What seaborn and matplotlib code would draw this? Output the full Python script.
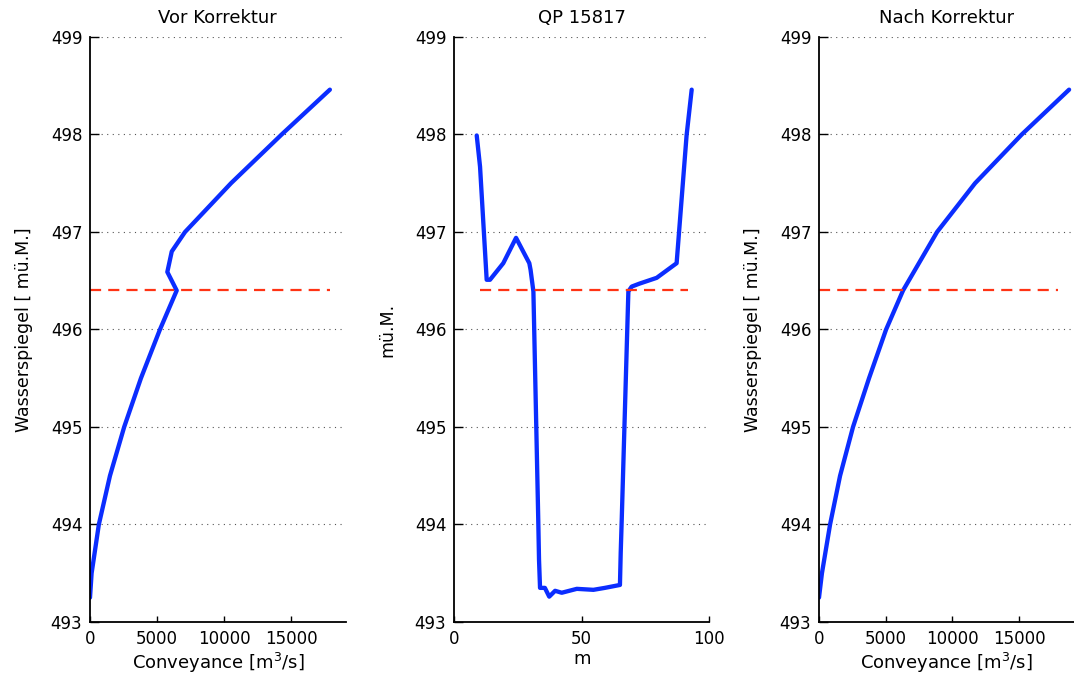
import numpy as np
import pandas as pd
import matplotlib
matplotlib.use("Agg")
import matplotlib.pyplot as plt
import seaborn as sns

# ---- data ----
vor_k = [0, 120, 660, 1490, 2550, 3800, 5220, 6470, 5770, 6100, 7090, 10520, 14300, 17900]
vor_h = [493.25, 493.5, 494.0, 494.5, 495.0, 495.5, 496.0, 496.4, 496.59, 496.8, 497.0, 497.5, 498.0, 498.46]

nach_k = [0, 220, 830, 1580, 2550, 3750, 5030, 6300, 8850, 11700, 15200, 18750]
nach_h = [493.25, 493.5, 494.0, 494.5, 495.0, 495.5, 496.0, 496.4, 497.0, 497.5, 498.0, 498.46]

qp_m = [8.9, 10.2, 12.8, 14.1, 19.3, 24.3, 29.5, 30.0, 31.1, 33.0, 33.3, 33.7, 35.6, 37.3,
        39.6, 42.2, 48.1, 54.6, 59.1, 65.0, 65.3, 65.7, 68.3, 69.6, 72.6, 79.4, 87.2, 91.1, 93.1]
qp_h = [497.99, 497.67, 496.51, 496.51, 496.68, 496.94, 496.68, 496.61, 496.39, 494.05, 493.64,
        493.35, 493.35, 493.26, 493.32, 493.30, 493.34, 493.33, 493.35, 493.38, 493.71, 494.05,
        496.39, 496.44, 496.47, 496.53, 496.68, 497.99, 498.46]

wsp = 496.4
wsp_x_vor = [0, 17900]
wsp_x_qp = [10.2, 91.7]
wsp_x_nach = [0, 17900]

titles = ["Vor Korrektur", "QP 15817", "Nach Korrektur"]
y_ticks = [493, 494, 495, 496, 497, 498, 499]
k_ticks = [0, 5000, 10000, 15000]
m_ticks = [0, 50, 100]

# ---- style ----
sns.set_theme(style="white")
plt.rcParams['font.family'] = ['DejaVu Sans']
plt.rcParams['mathtext.default'] = 'regular'
plt.rcParams['text.color'] = 'black'
plt.rcParams['axes.labelcolor'] = 'black'

fig = plt.figure(figsize=(10.74, 6.79), dpi=100)
W, H = 1074, 679
def add_ax(x0, x1, y0=37, y1=622):
    return fig.add_axes([x0 / W, 1 - y1 / H, (x1 - x0) / W, (y1 - y0) / H])

axes = [add_ax(90, 345.7), add_ax(454, 709.3), add_ax(819, 1073.5)]

blue = "#0b2dff"
red = "#ff3314"

panels = [
    (vor_k, vor_h, wsp_x_vor, (0, 19080), k_ticks, "Conveyance [m$^{3}$/s]", "Wasserspiegel [ mü.M.]"),
    (qp_m, qp_h, wsp_x_qp, (0, 100), m_ticks, "m", "mü.M."),
    (nach_k, nach_h, wsp_x_nach, (0, 19080), k_ticks, "Conveyance [m$^{3}$/s]", "Wasserspiegel [ mü.M.]"),
]

for ax, title, (xs, hs, wx, xlim, xt, xl, yl) in zip(axes, titles, panels):
    df = pd.DataFrame({"x": xs, "h": hs})
    sns.lineplot(data=df, x="x", y="h", sort=False, estimator=None, ax=ax,
                 color=blue, lw=3.1, solid_joinstyle="round")
    dfw = pd.DataFrame({"x": wx, "h": [wsp, wsp]})
    sns.lineplot(data=dfw, x="x", y="h", sort=False, estimator=None, ax=ax,
                 color=red, lw=1.6, dashes=False, linestyle=(0, (5, 3.2)))
    ax.set_xlim(*xlim)
    ax.set_ylim(493, 499)
    ax.set_yticks(y_ticks)
    ax.set_xticks(xt)
    ax.set_yticklabels([str(t) for t in y_ticks])
    ax.set_xticklabels([str(t) for t in xt])
    for yv in y_ticks[1:]:
        ax.axhline(yv, color="#555555", lw=0.8, linestyle=(0, (1, 4)), zorder=0)
    for s in ["top", "right"]:
        ax.spines[s].set_visible(False)
    for s in ["left", "bottom"]:
        ax.spines[s].set_color("black")
        ax.spines[s].set_linewidth(1.3)
    ax.tick_params(axis="y", direction="in", length=6.5, width=1.0, colors="black",
                   labelsize=12, pad=5.5, left=True)
    ax.tick_params(axis="x", direction="in", length=4.5, width=1.0, colors="black",
                   labelsize=12, pad=5.5, bottom=True)
    ax.set_title(title, fontsize=13, pad=10, color="black")
    ax.set_xlabel(xl, fontsize=13, labelpad=2)
    ax.set_ylabel(yl, fontsize=12.5, labelpad=13)
    ax.set_facecolor("white")
    ax.grid(False)

fig.savefig("out.png", dpi=100, facecolor="white")
